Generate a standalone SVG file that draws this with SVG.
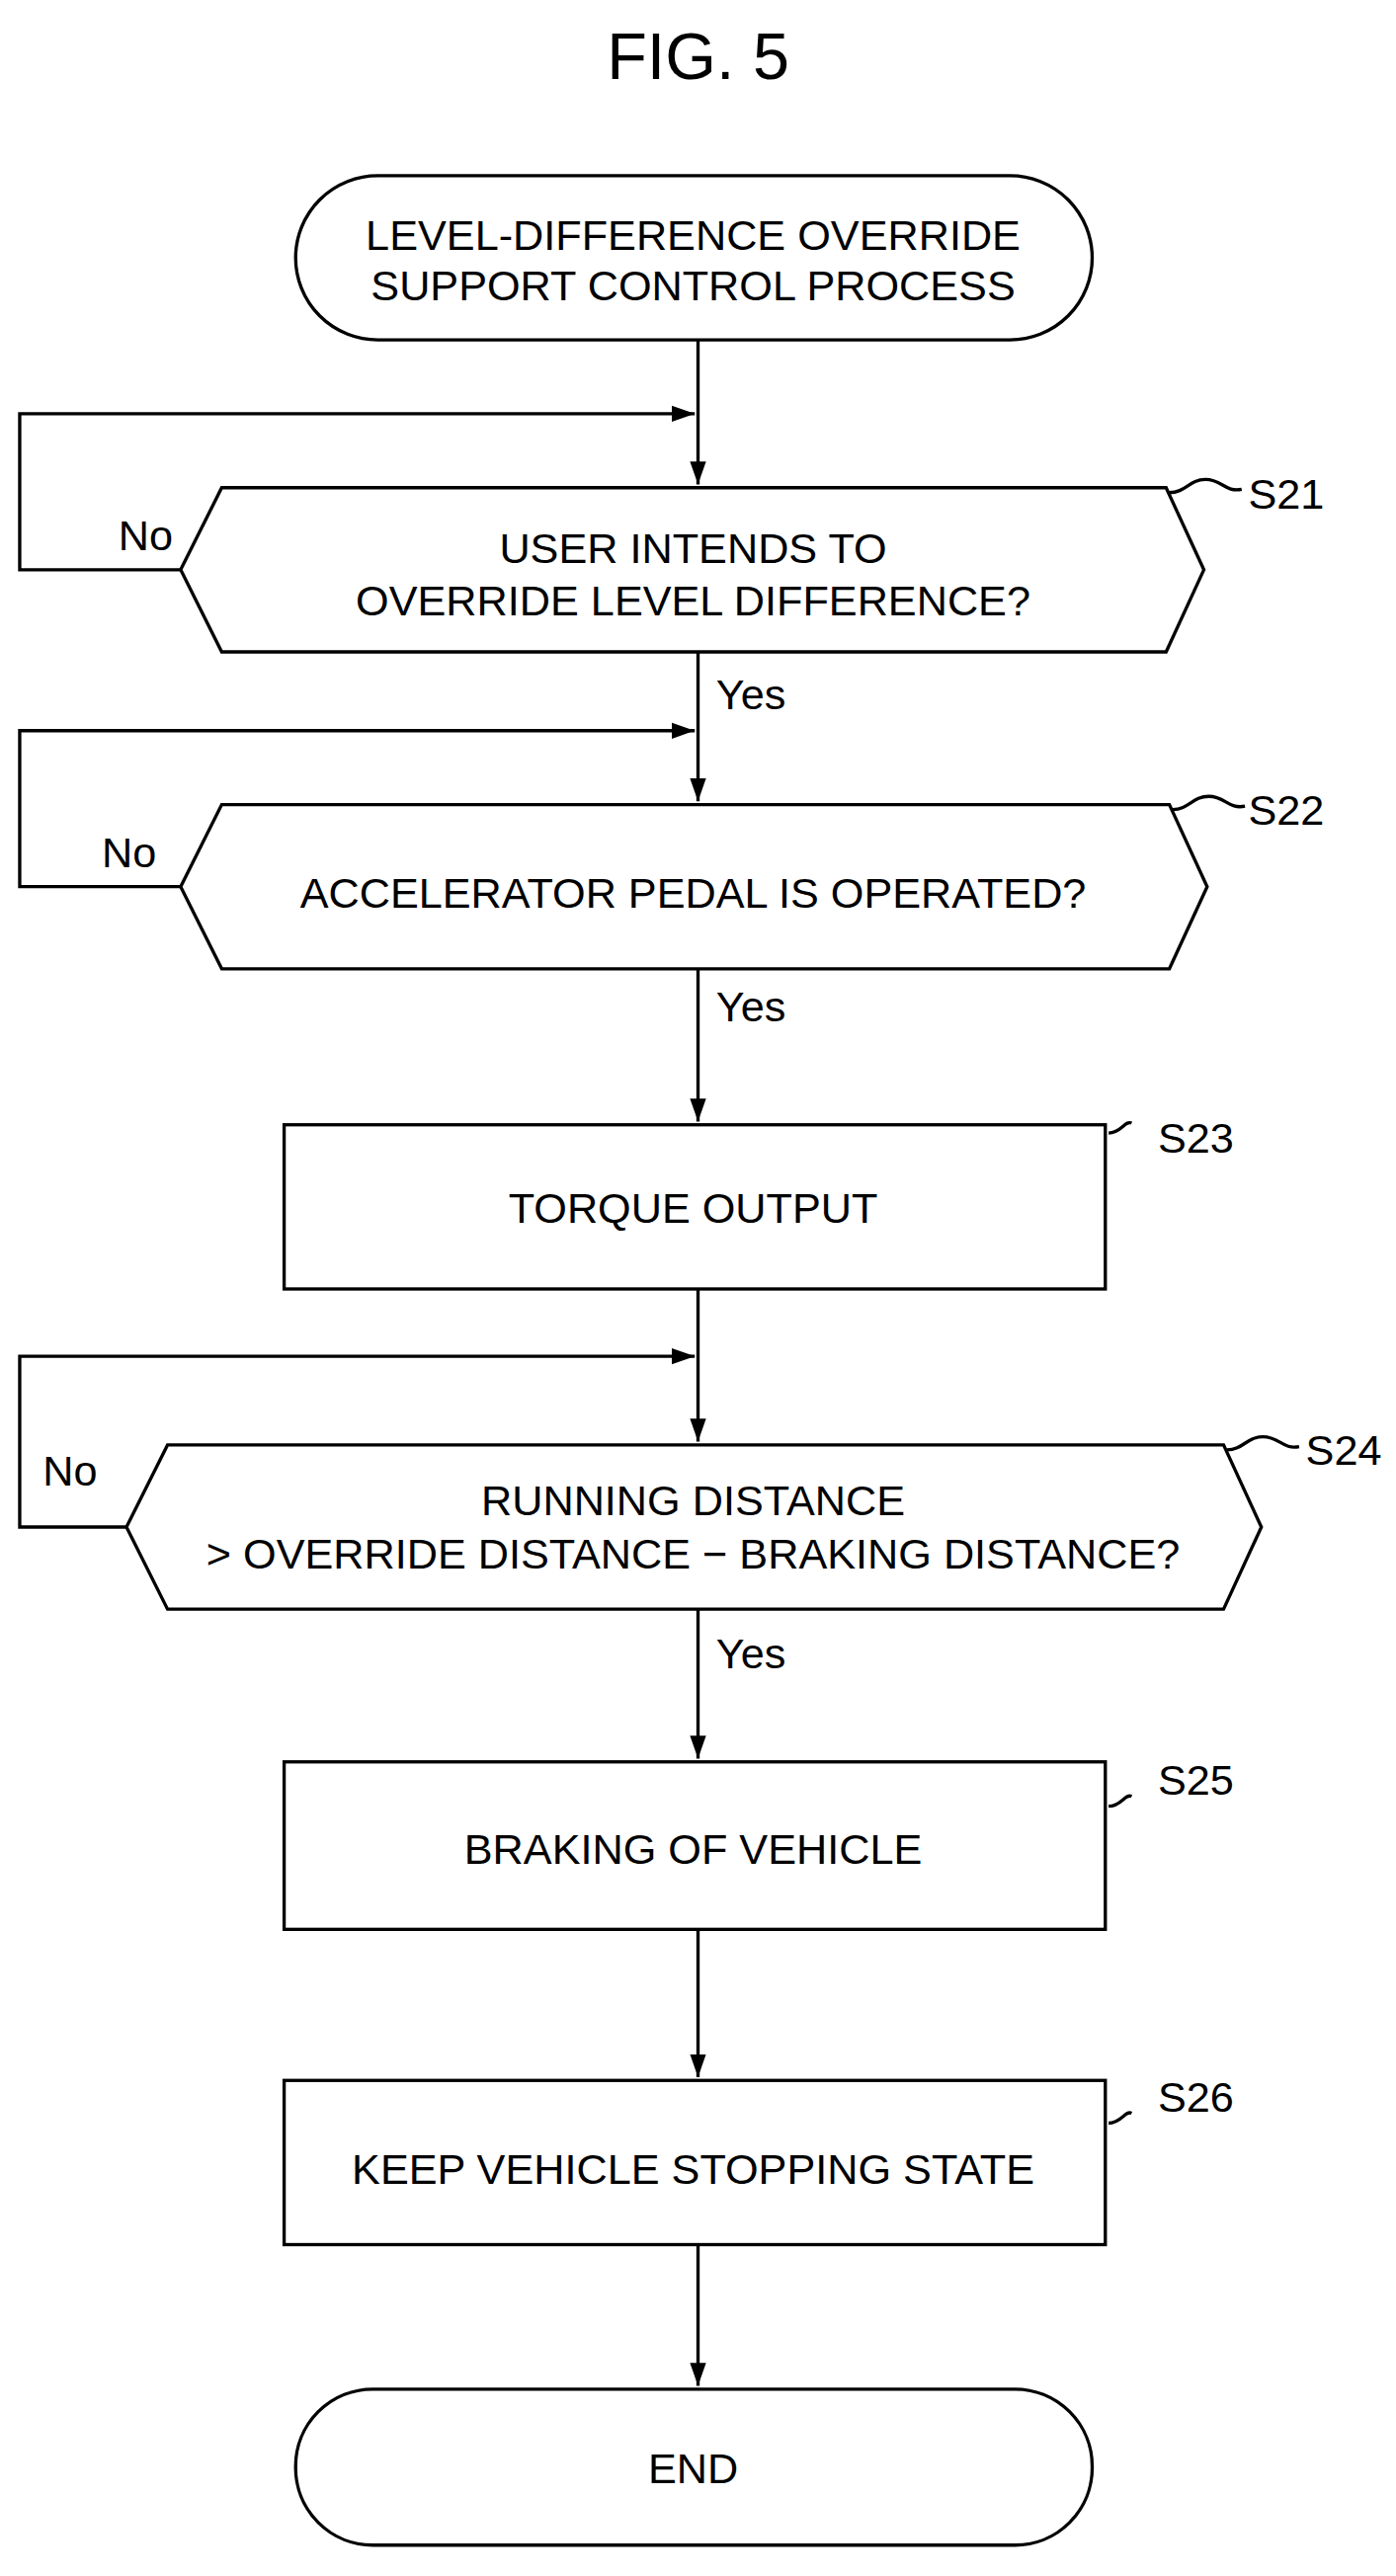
<svg xmlns="http://www.w3.org/2000/svg" width="1413" height="2608" viewBox="0 0 1413 2608">
<style>
.s{fill:#fff;stroke:#000;stroke-width:2}
.c{fill:none;stroke:#000;stroke-width:2}
text{font-family:"Liberation Sans",Arial,sans-serif;font-size:26px;fill:#000}
.m{text-anchor:middle}
</style>
<defs><marker id="a" viewBox="0 0 10 10" refX="10" refY="5" markerWidth="14" markerHeight="14" markerUnits="userSpaceOnUse" orient="auto"><path d="M0,1.5L10,5L0,8.5z" fill="#000"/></marker></defs>
<rect width="1413" height="2608" fill="#fff"/>
<g transform="scale(1.6624)">
<text x="425" y="48" class="m" style="font-size:40px">FIG. 5</text>
<g id="start"><rect class="s" x="180" y="107" width="485" height="100" rx="50"/><text x="422" y="152" class="m">LEVEL-DIFFERENCE OVERRIDE</text><text x="422" y="183" class="m">SUPPORT CONTROL PROCESS</text></g>
<g id="s21"><polygon class="s" points="110,347 135,297 710,297 733,347 710,397 135,397"/><text x="422" y="343" class="m">USER INTENDS TO</text><text x="422" y="375" class="m">OVERRIDE LEVEL DIFFERENCE?</text><text x="760" y="310">S21</text></g>
<g id="s22"><polygon class="s" points="110,540 135,490 712,490 735,540 712,590 135,590"/><text x="422" y="553" class="m">ACCELERATOR PEDAL IS OPERATED?</text><text x="760" y="502">S22</text></g>
<g id="s23"><rect class="s" x="173" y="685" width="500" height="100"/><text x="422" y="745" class="m">TORQUE OUTPUT</text><text x="705" y="702">S23</text></g>
<g id="s24"><polygon class="s" points="77,930 102,880 745,880 768,930 745,980 102,980"/><text x="422" y="923" class="m">RUNNING DISTANCE</text><text x="422" y="955" class="m">&gt; OVERRIDE DISTANCE − BRAKING DISTANCE?</text><text x="795" y="892">S24</text></g>
<g id="s25"><rect class="s" x="173" y="1073" width="500" height="102"/><text x="422" y="1135" class="m">BRAKING OF VEHICLE</text><text x="705" y="1093">S25</text></g>
<g id="s26"><rect class="s" x="173" y="1267" width="500" height="100"/><text x="422" y="1330" class="m">KEEP VEHICLE STOPPING STATE</text><text x="705" y="1286">S26</text></g>
<g id="end"><rect class="s" x="180" y="1455" width="485" height="95" rx="47"/><text x="422" y="1512" class="m">END</text></g>
<g id="connectors">
<path class="c" d="M425,207V295" marker-end="url(#a)"/>
<path class="c" d="M110,347H12V252H423" marker-end="url(#a)"/>
<path class="c" d="M425,397V488" marker-end="url(#a)"/>
<path class="c" d="M110,540H12V445H423" marker-end="url(#a)"/>
<path class="c" d="M425,590V683" marker-end="url(#a)"/>
<path class="c" d="M425,785V878" marker-end="url(#a)"/>
<path class="c" d="M77,930H12V826H423" marker-end="url(#a)"/>
<path class="c" d="M425,980V1071" marker-end="url(#a)"/>
<path class="c" d="M425,1175V1265" marker-end="url(#a)"/>
<path class="c" d="M425,1367V1453" marker-end="url(#a)"/>
<path class="c" d="M712,300c10,0 12,-8 22,-8s12,8 22,6"/>
<path class="c" d="M714,493c10,0 12,-8 22,-8s12,8 22,6"/>
<path class="c" d="M675,690c8,0 10,-8 14,-6"/>
<path class="c" d="M747,883c10,0 12,-8 22,-8s12,8 22,6"/>
<path class="c" d="M675,1100c8,0 10,-8 14,-6"/>
<path class="c" d="M675,1293c8,0 10,-8 14,-6"/>
<text x="72" y="335">No</text><text x="62" y="528">No</text><text x="26" y="905">No</text>
<text x="436" y="432">Yes</text><text x="436" y="622">Yes</text><text x="436" y="1016">Yes</text>
</g>
</g>
</svg>
